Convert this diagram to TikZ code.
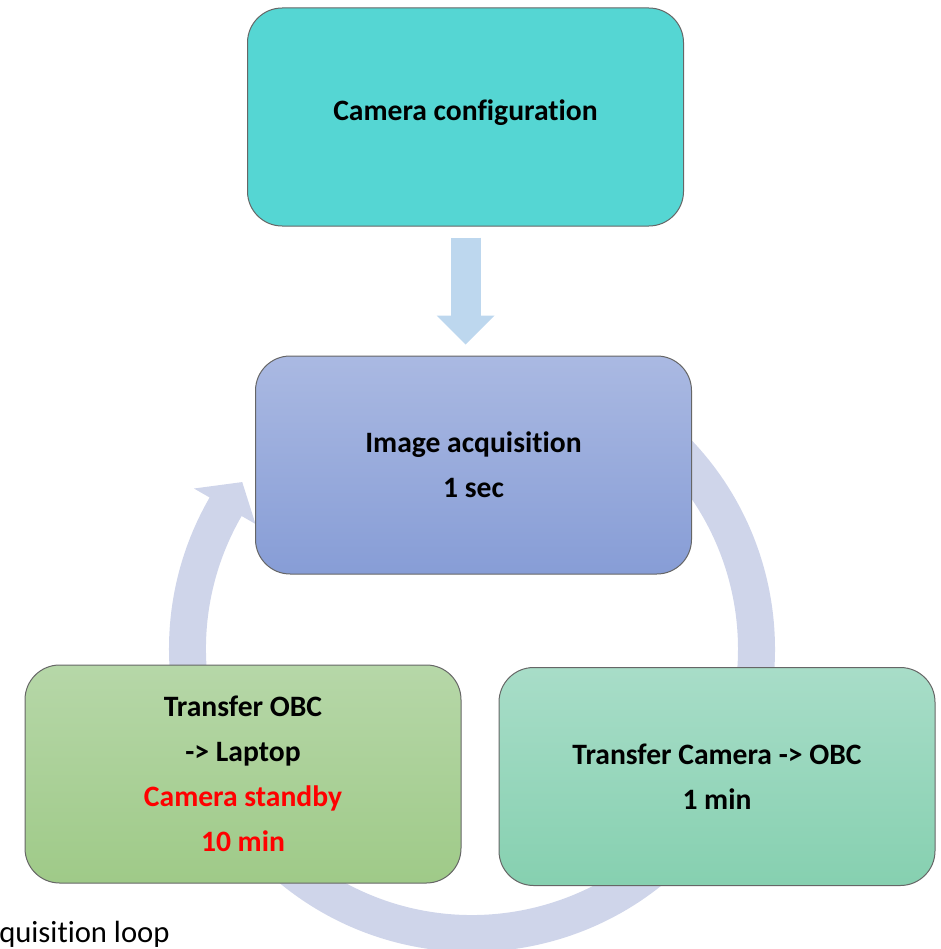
\documentclass[tikz,border=0pt]{standalone}
\usepackage{fontspec}
\setmainfont{Carlito}[Ligatures=NoCommon]
\usetikzlibrary{arrows.meta,calc}

\definecolor{cfgcol}{HTML}{55D6D3}
\definecolor{acqtop}{HTML}{AAB9E2}
\definecolor{acqbot}{HTML}{879DD6}
\definecolor{obctop}{HTML}{B6D7A8}
\definecolor{obcbot}{HTML}{9FCA88}
\definecolor{camtop}{HTML}{A8DDC8}
\definecolor{cambot}{HTML}{86D0B0}
\definecolor{loopcol}{HTML}{CFD5EA}
\definecolor{downcol}{HTML}{BDD7EE}

\begin{document}
\begin{tikzpicture}[x=0.75pt, y=0.75pt,
    box/.style={draw=black!60, line width=0.75pt, rounded corners=26pt,
      minimum width=327pt, minimum height=163.5pt, align=center,
      font=\fontsize{22.2}{33.75}\selectfont\bfseries},
    downarr/.style={draw=downcol, line width=22.5pt,
      -{Triangle[length=21.75pt, width=43.5pt, line width=0pt]},
      shorten <=8.25pt, shorten >=8.25pt}]

  \useasboundingbox (0,0) rectangle (941,-949);

  \newcommand\Rout{303}
  \newcommand\Rin{266}

  \coordinate (ctr) at (472,-649);

  %% loop ring behind the boxes
  \fill[loopcol] ($(ctr)+(50:\Rout)$) arc[start angle=50, end angle=-210, radius=\Rout]
    -- ($(ctr)+(150:321)$) -- ($(ctr)+(144:284)$) -- ($(ctr)+(150:250)$)
    -- ($(ctr)+(150:\Rin)$) arc[start angle=-210, end angle=50, radius=\Rin] -- cycle;

  \node[box, fill=cfgcol, text depth=11pt] (cfg) at (465.5,-117) {Camera configuration};
  \node[box, top color=acqtop, bottom color=acqbot] (acq) at (473.5,-465) {Image acquisition\\1 sec};
  \node[box, top color=obctop, bottom color=obcbot] (obc) at (243,-774)
    {Transfer OBC\\-> Laptop\\\textcolor{red}{Camera standby}\\\textcolor{red}{10 min}};
  \node[box, top color=camtop, bottom color=cambot] (cam) at (717,-776.5) {Transfer Camera -> OBC\\1 min};

  \draw[downarr] (cfg.south) -- (cfg.south |- acq.north); %% cfg->acq

  \node[anchor=base west, inner sep=0pt, font=\fontsize{23}{28}\selectfont] (cap) at (-1,-942) {quisition loop};
\end{tikzpicture}
\end{document}
